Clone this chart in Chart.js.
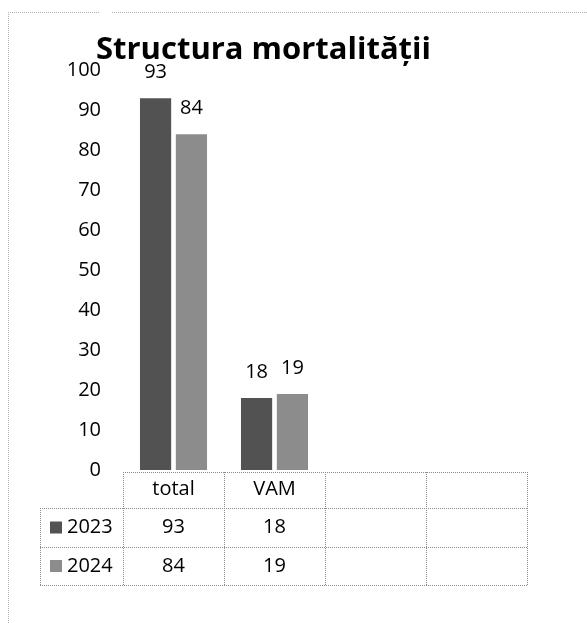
<!DOCTYPE html>
<html>
<head>
<meta charset="utf-8">
<script src="https://cdn.jsdelivr.net/npm/chart.js@4/dist/chart.umd.min.js"></script>
<style>
  html, body { margin: 0; padding: 0; background: #fff; }
  #wrap { width: 587px; height: 623px; position: relative; }
</style>
</head>
<body>
<div id="wrap"><canvas id="chart" width="587" height="623"></canvas></div>
<script>
const categories = ['total', 'VAM', '', ''];
const years = ['2023', '2024'];
const values2023 = [93, 18, null, null];
const values2024 = [84, 19, null, null];
const yMax = 100;
const yStep = 10;

const colors = ['#525252', '#8c8c8c'];
const FONT = "'Open Sans', 'Liberation Sans', sans-serif";

// value labels above bars + data table under the plot
const tablePlugin = {
  id: 'tablePlugin',
  beforeDraw(chart) {
    const ctx = chart.ctx;
    ctx.save();
    ctx.strokeStyle = '#b0b0b0';
    ctx.lineWidth = 1;
    ctx.setLineDash([1, 1]);
    ctx.beginPath();
    ctx.moveTo(8, 12.5); ctx.lineTo(100, 12.5);
    ctx.moveTo(112, 12.5); ctx.lineTo(587, 12.5);
    ctx.moveTo(8.5, 12); ctx.lineTo(8.5, 623);
    ctx.stroke();
    ctx.restore();
  },
  afterDatasetsDraw(chart) {
    const ctx = chart.ctx;
    const x = chart.scales.x;
    const area = chart.chartArea;
    ctx.save();
    // labels above bars
    ctx.font = '20px ' + FONT;
    ctx.fillStyle = '#000';
    ctx.textAlign = 'center';
    ctx.textBaseline = 'middle';
    chart.data.datasets.forEach((ds, di) => {
      chart.getDatasetMeta(di).data.forEach((bar, i) => {
        if (ds.data[i] == null) return;
        ctx.fillText(String(ds.data[i]), bar.x, bar.y - 26);
      });
    });

    // table grid
    const n = categories.length;
    const cw = (area.right - area.left) / n;
    const top = area.bottom + 2;
    const rows = [top, top + 36, top + 75, top + 113];
    const legendLeft = 40;
    ctx.strokeStyle = '#8a8a8a';
    ctx.lineWidth = 1;
    ctx.setLineDash([1, 1]);
    ctx.beginPath();
    ctx.moveTo(area.left, rows[0] + 0.5); ctx.lineTo(area.right, rows[0] + 0.5);
    for (let r = 1; r < rows.length; r++) {
      ctx.moveTo(legendLeft, rows[r] + 0.5); ctx.lineTo(area.right, rows[r] + 0.5);
    }
    for (let c = 0; c <= n; c++) {
      const px = Math.round(area.left + c * cw) + 0.5;
      ctx.moveTo(px, rows[0]); ctx.lineTo(px, rows[3]);
    }
    ctx.moveTo(legendLeft + 0.5, rows[1]); ctx.lineTo(legendLeft + 0.5, rows[3]);
    ctx.stroke();
    ctx.setLineDash([]);

    // table rows
    ctx.font = '20px ' + FONT;
    chart.data.datasets.forEach((ds, di) => {
      const cy = (rows[di + 1] + rows[di + 2]) / 2;
      ctx.fillStyle = colors[di];
      ctx.fillRect(50, cy - 6, 12, 12);
      ctx.fillStyle = '#000';
      ctx.textAlign = 'left';
      ctx.fillText(years[di], 67, cy);
      ctx.textAlign = 'center';
      ds.data.forEach((v, i) => {
        if (v == null) return;
        ctx.fillText(String(v), x.getPixelForValue(i), cy);
      });
    });
    ctx.restore();
  }
};

new Chart(document.getElementById('chart'), {
  type: 'bar',
  data: {
    labels: categories,
    datasets: [
      { label: years[0], data: values2023, backgroundColor: colors[0] },
      { label: years[1], data: values2024, backgroundColor: colors[1] }
    ]
  },
  options: {
    responsive: false,
    animation: false,
    devicePixelRatio: 1,
    categoryPercentage: 0.71,
    barPercentage: 0.87,
    layout: { padding: { left: 0, right: 60, top: 0, bottom: 115 } },
    plugins: {
      legend: { display: false },
      tooltip: { enabled: false },
      title: {
        display: true,
        text: 'Structura mortalității',
        color: '#000',
        font: { family: FONT, size: 31, weight: 'bold' },
        padding: { top: 32, bottom: 1 }
      }
    },
    scales: {
      x: {
        grid: { display: false, drawTicks: false },
        border: { display: false },
        ticks: { color: '#000', font: { family: FONT, size: 20 }, padding: 7 },
        afterFit(scale) { scale.height = 38; }
      },
      y: {
        min: 0,
        max: yMax,
        grid: { display: false, drawTicks: false },
        border: { display: false },
        ticks: { stepSize: yStep, color: '#000', font: { family: FONT, size: 20 }, padding: 22 },
        afterFit(scale) { scale.width = 123; }
      }
    }
  },
  plugins: [tablePlugin]
});
</script>
</body>
</html>
